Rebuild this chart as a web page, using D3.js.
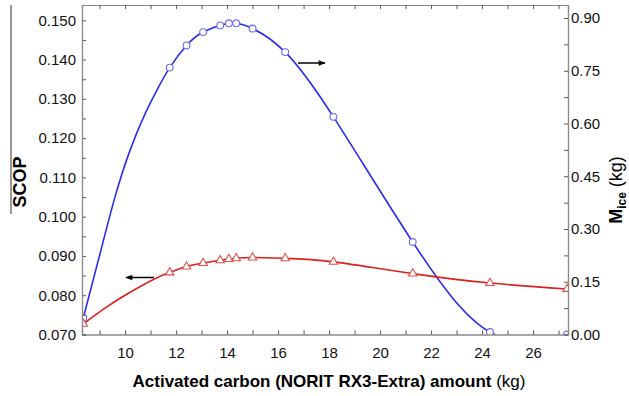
<!DOCTYPE html>
<meta charset="utf-8">
<style>
  body { margin: 0; background: #fff; }
  text { font-family: "Liberation Sans", Arial, sans-serif; }
</style>
<script src="https://d3js.org/d3.v7.min.js"></script>
<div id="chart"></div>
<script>

// computed points (markers): carbon amount in kg
var carbon = [8.36, 11.75, 12.41, 13.06, 13.73, 14.07, 14.36, 15.0, 16.28, 18.17, 21.28, 24.31, 27.33];
// SCOP (left axis)
var scop = [0.0727, 0.0858, 0.0873, 0.0882, 0.0889, 0.0892, 0.0894, 0.0896, 0.0894, 0.0885, 0.0855, 0.0831, 0.0816];
// M_ice in kg (right axis)
var mice = [0.047, 0.759, 0.822, 0.860, 0.879, 0.885, 0.885, 0.870, 0.803, 0.619, 0.263, 0.007, 0.0];

// extra points read off the fitted curves between 8.36 and 11.75 kg (no markers there)
var scopCurveX = [9.21, 10.0, 11.11];
var scopCurveY = [0.0767, 0.0800, 0.0840];
var miceCurveX = [9.0, 9.6, 10.2, 10.8, 11.3];
var miceCurveY = [0.225, 0.390, 0.525, 0.630, 0.702];

var xTicks = [10, 12, 14, 16, 18, 20, 22, 24, 26];
var yLeftTicks = [0.070, 0.080, 0.090, 0.100, 0.110, 0.120, 0.130, 0.140, 0.150];
var yRightTicks = [0.00, 0.15, 0.30, 0.45, 0.60, 0.75, 0.90];

var W = 629, H = 396;
var L = 82, R = 568, T = 5, B = 334.5;
var axisColor = "#8a8a8a";

var svg = d3.select("#chart").append("svg")
    .attr("width", W)
    .attr("height", H);

var x = d3.scaleLinear().domain([8.31, 27.37]).range([L, R]);
var yL = d3.scaleLinear().domain([0.070, 0.1539]).range([B, T]);
var yR = d3.scaleLinear().domain([0, 0.937]).range([B, T]);

svg.append("clipPath").attr("id", "clip")
    .append("rect").attr("x", L).attr("y", T).attr("width", R - L).attr("height", B - T);

// stray line left of the SCOP label
svg.append("line")
    .attr("x1", 11).attr("x2", 11).attr("y1", 5).attr("y2", 214)
    .attr("stroke", "#333").attr("stroke-width", 1);

function merge(xs, ys, ex, ey) {
    var pts = xs.map(function (v, i) { return [v, ys[i]]; })
        .concat(ex.map(function (v, i) { return [v, ey[i]]; }));
    return pts.sort(function (a, b) { return a[0] - b[0]; });
}

var plot = svg.append("g").attr("clip-path", "url(#clip)");

var blueLine = d3.line()
    .x(function (d) { return x(d[0]); })
    .y(function (d) { return yR(d[1]); })
    .curve(d3.curveNatural);

var redLine = d3.line()
    .x(function (d) { return x(d[0]); })
    .y(function (d) { return yL(d[1]); })
    .curve(d3.curveNatural);

plot.append("path")
    .attr("d", blueLine(merge(carbon, mice, miceCurveX, miceCurveY)))
    .attr("fill", "none")
    .attr("stroke", "#2b2bf0")
    .attr("stroke-width", 1.6);

plot.append("path")
    .attr("d", redLine(merge(carbon, scop, scopCurveX, scopCurveY)))
    .attr("fill", "none")
    .attr("stroke", "#dd1f1f")
    .attr("stroke-width", 1.6);

// markers
plot.selectAll("circle.m")
    .data(mice)
    .enter().append("circle")
    .attr("class", "m")
    .attr("cx", function (d, i) { return x(carbon[i]); })
    .attr("cy", function (d) { return yR(d); })
    .attr("r", 3.4)
    .attr("fill", "#fff")
    .attr("stroke", "#6b6bf5")
    .attr("stroke-width", 1.1);

var tri = d3.symbol().type(d3.symbolTriangle).size(30);
plot.selectAll("path.s")
    .data(scop)
    .enter().append("path")
    .attr("class", "s")
    .attr("d", tri)
    .attr("transform", function (d, i) { return "translate(" + x(carbon[i]) + "," + yL(d) + ")"; })
    .attr("fill", "#fff")
    .attr("stroke", "#e05050")
    .attr("stroke-width", 1.1);

// axes
var gAx = svg.append("g");

gAx.append("g")
    .attr("transform", "translate(0," + B + ")")
    .call(d3.axisBottom(x).tickValues(d3.range(9, 28, 1)).tickSize(-4).tickFormat(""));
gAx.append("g")
    .attr("transform", "translate(0," + B + ")")
    .call(d3.axisBottom(x).tickValues(xTicks).tickSize(0).tickPadding(13).tickFormat(d3.format("d")));

gAx.append("g")
    .attr("transform", "translate(0," + T + ")")
    .call(d3.axisTop(x).tickValues(d3.range(9, 28, 1)).tickSize(-4).tickFormat(""));

gAx.append("g")
    .attr("transform", "translate(" + L + ",0)")
    .call(d3.axisLeft(yL).tickValues(d3.range(0.070, 0.1531, 0.005)).tickSize(-4).tickFormat(""));
gAx.append("g")
    .attr("transform", "translate(" + L + ",0)")
    .call(d3.axisLeft(yL).tickValues(yLeftTicks).tickSize(0).tickPadding(6).tickFormat(d3.format(".3f")));

gAx.append("g")
    .attr("transform", "translate(" + R + ",0)")
    .call(d3.axisRight(yR).tickValues(d3.range(0, 0.91, 0.075)).tickSize(-4).tickFormat(""));
gAx.append("g")
    .attr("transform", "translate(" + R + ",0)")
    .call(d3.axisRight(yR).tickValues(yRightTicks).tickSize(0).tickPadding(3).tickFormat(d3.format(".2f")));

gAx.selectAll(".domain").attr("stroke", axisColor).attr("stroke-width", 1.2);
gAx.selectAll(".tick line").attr("stroke", "#555");
gAx.selectAll(".tick text").attr("fill", "#111").style("font-size", "15px")
    .style("font-family", "'Liberation Sans', Arial, sans-serif");

// arrows
var defs = svg.append("defs");
defs.append("marker")
    .attr("id", "head")
    .attr("viewBox", "0 0 10 10")
    .attr("refX", 9).attr("refY", 5)
    .attr("markerWidth", 9).attr("markerHeight", 7)
    .attr("markerUnits", "userSpaceOnUse")
    .attr("orient", "auto")
    .append("path").attr("d", "M0,1 L10,5 L0,9 Z").attr("fill", "#000");

svg.append("line")
    .attr("x1", 154).attr("y1", 277.5).attr("x2", 126).attr("y2", 277.5)
    .attr("stroke", "#000").attr("stroke-width", 1.5).attr("marker-end", "url(#head)");
svg.append("line")
    .attr("x1", 298).attr("y1", 63).attr("x2", 325).attr("y2", 63)
    .attr("stroke", "#000").attr("stroke-width", 1.5).attr("marker-end", "url(#head)");

// axis titles
var xt = svg.append("text")
    .attr("x", 329).attr("y", 387)
    .attr("text-anchor", "middle")
    .style("font-size", "17px");
xt.append("tspan").attr("font-weight", "bold").text("Activated carbon (NORIT RX3-Extra) amount");
xt.append("tspan").text(" (kg)");

svg.append("text")
    .attr("transform", "translate(26,182) rotate(-90)")
    .attr("text-anchor", "middle")
    .attr("font-weight", "bold")
    .style("font-size", "18px")
    .text("SCOP");

var rt = svg.append("text")
    .attr("transform", "translate(622,190) rotate(-90)")
    .attr("text-anchor", "middle")
    .style("font-size", "18px");
rt.append("tspan").attr("font-weight", "bold").text("M");
rt.append("tspan").attr("font-weight", "bold").attr("font-size", "12px").attr("dy", 4).text("ice");
rt.append("tspan").attr("dy", -4).text(" (kg)");

</script>
